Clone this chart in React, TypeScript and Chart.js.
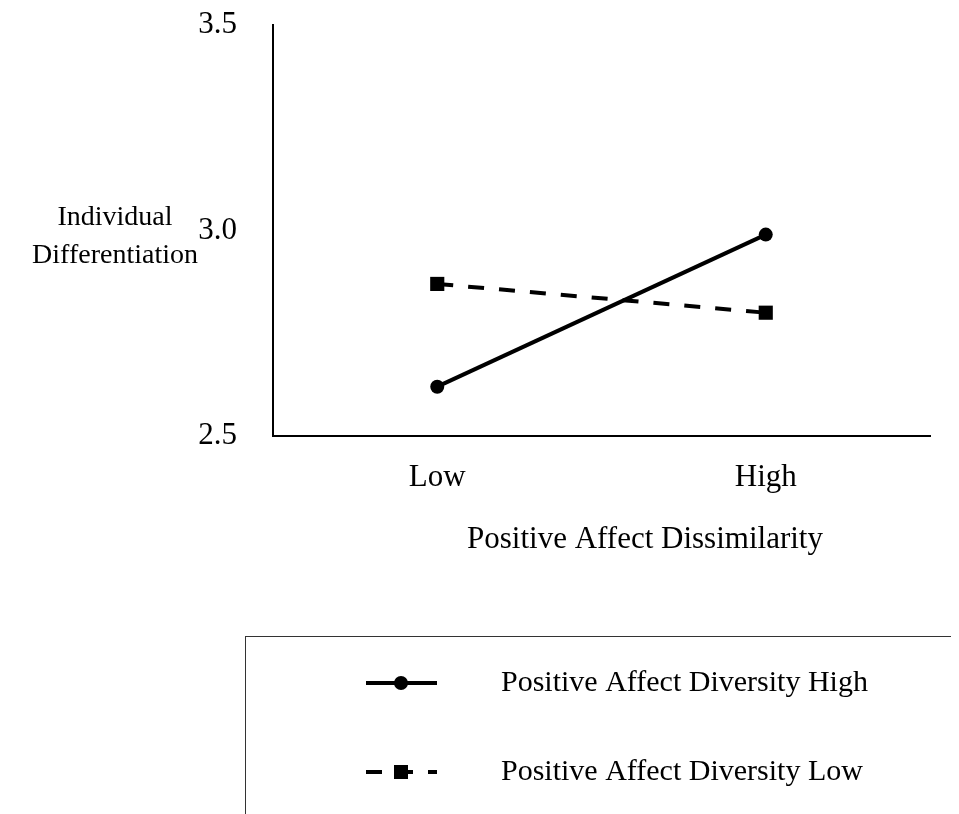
import React, { useEffect, useRef } from "react";
import { Chart, registerables } from "chart.js";

Chart.register(...registerables);

const categories = ["Low", "High"];
const diversityHigh = [2.62, 2.99];
const diversityLow = [2.87, 2.8];
const seriesLabels = ["Positive Affect Diversity High", "Positive Affect Diversity Low"];
const yTicks = [2.5, 3.0, 3.5];
const xTitle = "Positive Affect Dissimilarity";
const yTitleLines = ["Individual", "Differentiation"];

const FONT = "'Liberation Serif', 'Times New Roman', serif";

const decorPlugin = {
  id: "decor",
  afterDraw(chart: any) {
    const { ctx, chartArea } = chart;
    ctx.save();
    ctx.fillStyle = "#000";
    // X axis title
    ctx.font = `31px ${FONT}`;
    ctx.textAlign = "center";
    ctx.textBaseline = "middle";
    ctx.fillText(xTitle, chartArea.left + 372, chartArea.bottom + 104);
    // Y axis title (horizontal)
    ctx.font = `28px ${FONT}`;
    ctx.fillText(yTitleLines[0], chartArea.left - 158, chartArea.top + 193);
    ctx.fillText(yTitleLines[1], chartArea.left - 158, chartArea.top + 231);

    // Legend box
    const boxX = chartArea.left - 28;
    const boxY = chartArea.bottom + 200;
    ctx.strokeStyle = "#333";
    ctx.lineWidth = 1;
    ctx.strokeRect(boxX + 0.5, boxY + 0.5, 900, 400);

    const rows = [boxY + 47, boxY + 136];
    chart.data.datasets.forEach((ds: any, i: number) => {
      const y = rows[i];
      const x0 = boxX + 121;
      const x1 = boxX + 192;
      ctx.save();
      ctx.strokeStyle = ds.borderColor;
      ctx.lineWidth = 4;
      ctx.lineCap = "butt";
      ctx.setLineDash(ds.borderDash || []);
      ctx.beginPath();
      ctx.moveTo(x0, y);
      ctx.lineTo(x1, y);
      ctx.stroke();
      ctx.setLineDash([]);
      ctx.fillStyle = ds.pointBackgroundColor;
      if (ds.pointStyle === "rect") {
        ctx.fillRect(x0 + 28, y - 7, 14, 14);
      } else {
        ctx.beginPath();
        ctx.arc(x0 + 35, y, 7, 0, Math.PI * 2);
        ctx.fill();
      }
      ctx.restore();
      ctx.font = `30px ${FONT}`;
      ctx.textAlign = "left";
      ctx.textBaseline = "middle";
      ctx.fillStyle = "#000";
      ctx.fillText(ds.label, boxX + 256, y);
    });
    ctx.restore();
  },
};

export default function App() {
  const ref = useRef<HTMLCanvasElement>(null);
  useEffect(() => {
    if (!ref.current) return;
    const chart = new Chart(ref.current, {
      type: "line",
      data: {
        labels: categories,
        datasets: [
          {
            label: seriesLabels[0],
            data: diversityHigh,
            borderColor: "#000",
            backgroundColor: "#000",
            pointBackgroundColor: "#000",
            pointBorderColor: "#000",
            borderWidth: 4,
            pointStyle: "circle",
            pointRadius: 7,
            pointBorderWidth: 0,
          },
          {
            label: seriesLabels[1],
            data: diversityLow,
            borderColor: "#000",
            backgroundColor: "#000",
            pointBackgroundColor: "#000",
            pointBorderColor: "#000",
            borderWidth: 4,
            borderDash: [16, 15],
            pointStyle: "rect",
            pointRadius: 10,
            pointBorderWidth: 0,
          },
        ] as any,
      },
      plugins: [decorPlugin],
      options: {
        animation: false,
        responsive: false,
        maintainAspectRatio: false,
        layout: { padding: { top: 17, right: 29, left: 0, bottom: 0 } },
        plugins: { legend: { display: false }, tooltip: { enabled: false } },
        scales: {
          x: {
            type: "category",
            offset: true,
            grid: { display: false, drawTicks: false },
            border: { display: true, color: "#000", width: 2 },
            ticks: { color: "#000", font: { family: FONT, size: 31 }, padding: 23 },
            afterFit: (s: any) => {
              s.height = 378;
              s.paddingLeft = 0;
              s.paddingRight = 0;
            },
          },
          y: {
            min: 2.5,
            max: 3.5,
            afterBuildTicks: (s: any) => {
              s.ticks = yTicks.map((v) => ({ value: v }));
            },
            grid: { display: false, drawTicks: false },
            border: { display: true, color: "#000", width: 2 },
            ticks: {
              color: "#000",
              font: { family: FONT, size: 31 },
              padding: 36,
              callback: (v: any) => Number(v).toFixed(1),
            },
            afterFit: (s: any) => {
              s.width = 265;
              s.paddingTop = 0;
              s.paddingBottom = 0;
            },
          },
        },
      } as any,
    });
    return () => chart.destroy();
  }, []);
  return (
    <div style={{ width: 951, height: 806 }}>
      <canvas ref={ref} width={951} height={806} style={{ display: "block" }} />
    </div>
  );
}
